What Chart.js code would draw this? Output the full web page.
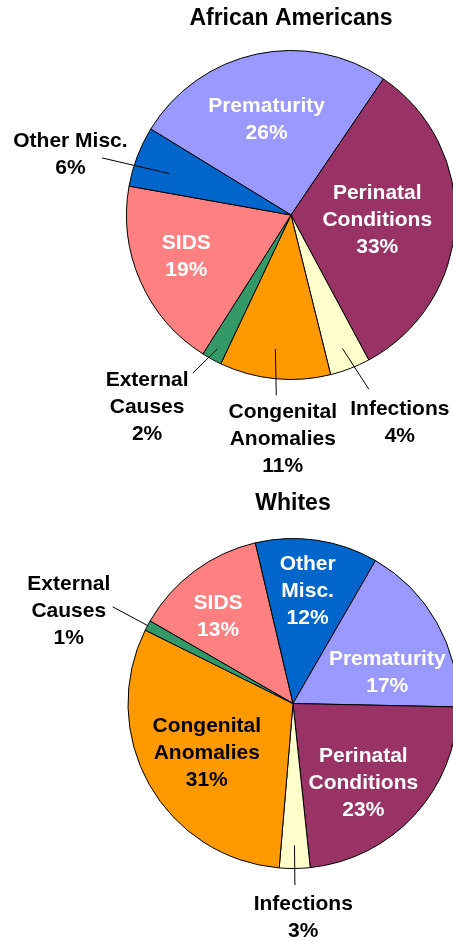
<!DOCTYPE html>
<html>
<head>
<meta charset="utf-8">
<script src="https://cdn.jsdelivr.net/npm/chart.js@4/dist/chart.umd.min.js"></script>
<style>
  html, body { margin: 0; padding: 0; background: #fff; overflow: hidden; width: 453px; height: 941px; }
  canvas { position: absolute; left: 0; }
  #aa-chart { top: 0; }
  #wh-chart { top: 470px; }
</style>
</head>
<body>
<canvas id="aa-chart" width="470" height="480"></canvas>
<canvas id="wh-chart" width="470" height="471"></canvas>
<script>
// --- data ---
const aaCategories = ['Prematurity', 'Perinatal\nConditions', 'Infections', 'Congenital\nAnomalies', 'External\nCauses', 'SIDS', 'Other Misc.'];
const aaValues = [26, 33, 4, 11, 2, 19, 6];
const aaColors = ['#9999FF', '#993366', '#FFFFCC', '#FF9900', '#339966', '#FF8080', '#0066CC'];

const whCategories = ['SIDS', 'Other\nMisc.', 'Prematurity', 'Perinatal\nConditions', 'Infections', 'Congenital\nAnomalies', 'External\nCauses'];
const whValues = [13, 12, 17, 23, 3, 31, 1];
const whColors = ['#FF8080', '#0066CC', '#9999FF', '#993366', '#FFFFCC', '#FF9900', '#339966'];

// where each label sits: f = share of radius along the slice middle, dx/dy = nudge,
// lead = leader line [from r, to r, angle nudge at start, angle nudge at end (deg)]
const aaLabelPos = [
    { f: 0.59, dx: -4, dy: 0, color: '#fff' },
    { f: 0.525, dx: 0, dy: 1, color: '#fff' },
    { f: 1.35, dx: 29, dy: 0, color: '#000', lead: [0.87, 1.16, 0, -3] },
    { f: 1.37, dx: 14, dy: 0, color: '#000', lead: [0.82, 1.1, 1, -1] },
    { f: 1.335, dx: -38, dy: 0, color: '#000', lead: [0.93, 1.13, 0, 3] },
    { f: 0.695, dx: 0, dy: -4, color: '#fff' },
    { f: 1.35, dx: -13, dy: 19, color: '#000', lead: [0.78, 1.2, -2, -4] }
];
const whLabelPos = [
    { f: 0.68, dx: -8, dy: 3, color: '#fff' },
    { f: 0.69, dx: -2, dy: 0, color: '#fff' },
    { f: 0.6, dx: 8, dy: 18, color: '#fff' },
    { f: 0.645, dx: -8, dy: 8, color: '#fff' },
    { f: 1.3, dx: 8, dy: 0, color: '#000', lead: [0.86, 1.1, 0, 0] },
    { f: 0.6, dx: 0, dy: 1, color: '#000' },
    { f: 1.48, dx: -9, dy: 23, color: '#000', lead: [1.0, 1.24, 0, 0] }
];

const FONT = '"Liberation Sans", Arial, sans-serif';
const DEG = Math.PI / 180;

// draws slice labels (and leader lines) from the arc geometry
const sliceLabels = {
    id: 'sliceLabels',
    afterDatasetsDraw(chart, args, opts) {
        const c = chart.ctx;
        const meta = chart.getDatasetMeta(0);
        const values = chart.data.datasets[0].data;
        c.save();
        c.font = 'bold 21px ' + FONT;
        c.textAlign = 'center';
        c.textBaseline = 'middle';
        meta.data.forEach((arc, i) => {
            const p = arc.getProps(['x', 'y', 'startAngle', 'endAngle', 'outerRadius'], true);
            const pos = opts.pos[i];
            const mid = (p.startAngle + p.endAngle) / 2;
            const r = p.outerRadius;
            if (pos.lead) {
                const a1 = mid + pos.lead[2] * DEG;
                const a2 = mid + pos.lead[3] * DEG;
                c.strokeStyle = '#000';
                c.lineWidth = 1;
                c.beginPath();
                c.moveTo(p.x + Math.cos(a1) * r * pos.lead[0], p.y + Math.sin(a1) * r * pos.lead[0]);
                c.lineTo(p.x + Math.cos(a2) * r * pos.lead[1], p.y + Math.sin(a2) * r * pos.lead[1]);
                c.stroke();
            }
            const lx = p.x + Math.cos(mid) * r * pos.f + pos.dx;
            const ly = p.y + Math.sin(mid) * r * pos.f + pos.dy;
            const lines = (chart.data.labels[i] + '\n' + values[i] + '%').split('\n');
            c.fillStyle = pos.color;
            lines.forEach((t, k) => {
                c.fillText(t, lx, ly + (k - (lines.length - 1) / 2) * 27);
            });
        });
        c.restore();
    }
};

const makePie = (id, title, labels, values, colors, pos, padding, titlePad, rotation) => new Chart(document.getElementById(id), {
    type: 'pie',
    data: {
        labels: labels,
        datasets: [{
            data: values,
            backgroundColor: colors,
            borderColor: '#000',
            borderWidth: 1
        }]
    },
    options: {
        responsive: false,
        animation: false,
        rotation: rotation,
        layout: { padding: padding },
        plugins: {
            legend: { display: false },
            tooltip: { enabled: false },
            title: {
                display: true,
                text: title,
                color: '#000',
                font: { family: FONT, size: 23, weight: 'bold', lineHeight: 1.2 },
                padding: titlePad
            },
            sliceLabels: { pos: pos }
        }
    },
    plugins: [sliceLabels]
});

makePie('aa-chart', 'African Americans', aaCategories, aaValues, aaColors, aaLabelPos,
    { left: 126, right: 14, top: 0, bottom: 100 }, { top: 5, bottom: 17.4 }, 301.5);
makePie('wh-chart', 'Whites', whCategories, whValues, whColors, whLabelPos,
    { left: 127.5, right: 11.5, top: 0, bottom: 72 }, { top: 20.2, bottom: 20.2 }, 300);
</script>
</body>
</html>
